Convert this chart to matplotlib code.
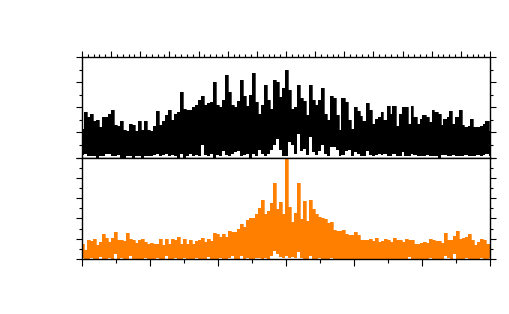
import numpy as np
import matplotlib
matplotlib.use('Agg')
import matplotlib.pyplot as plt
from matplotlib.ticker import MultipleLocator

# envelope of the two signals
black_high = [2.3,3.6,3.2,3.5,2.9,3.0,2.4,3.2,3.2,3.5,
              3.8,2.6,2.5,2.9,2.2,2.1,2.7,2.6,2.1,2.9,
              2.2,2.9,2.2,2.1,2.5,3.7,2.6,2.9,3.4,3.8,
              3.0,3.5,3.6,5.2,3.9,3.8,3.8,4.0,4.2,4.6,
              4.9,4.2,4.3,4.4,6.0,4.2,4.0,4.6,6.6,5.2,
              4.2,4.0,4.5,6.2,4.9,4.1,5.0,6.7,4.4,3.5,
              4.2,5.8,4.6,3.9,6.2,6.0,4.8,5.5,7.0,5.4,
              3.9,4.0,5.8,4.7,4.5,3.4,5.8,4.6,4.2,
              4.6,5.5,3.5,3.0,4.9,4.7,3.4,2.2,4.7,4.4,
              3.0,2.3,4.0,3.7,3.3,2.9,4.3,3.8,2.7,3.1,
              3.2,3.6,3.0,4.1,3.5,4.1,2.5,3.5,4.0,4.0,
              2.7,4.1,3.2,2.7,3.1,3.4,3.2,2.8,3.8,3.6,
              3.5,2.6,3.1,3.2,3.7,2.7,3.2,3.8,2.6,2.4,
              2.5,3.1,2.4,2.4,2.5,2.7,2.9,2.1]
black_low = [0.2,0.3,0.1,0.1,0.1,0.0,0.1,0.1,0.3,0.3,
             0.1,0.1,0.2,0.0,0.0,0.1,0.1,0.0,0.1,0.1,
             0.0,0.1,0.1,0.1,0.2,0.3,0.1,0.2,0.3,0.1,
             0.2,0.1,0.0,0.3,0.0,0.1,0.3,0.1,0.2,0.1,
             1.0,0.2,0.1,0.3,0.0,0.2,0.1,0.5,0.2,0.1,
             0.3,0.4,0.5,0.1,0.2,0.3,0.0,0.3,0.1,0.6,
             0.3,0.1,0.3,0.6,1.0,1.5,0.6,0.1,0.1,1.2,
             1.0,0.3,1.9,0.5,0.7,0.2,1.6,0.4,0.2,
             0.5,1.0,0.3,0.1,0.8,0.8,0.6,0.1,0.2,0.5,
             0.6,0.1,0.4,0.3,0.1,0.1,0.5,0.2,0.1,0.2,
             0.3,0.2,0.3,0.1,0.1,0.3,0.1,0.1,0.4,0.1,
             0.1,0.3,0.2,0.1,0.1,0.1,0.2,0.1,0.1,0.1,
             0.0,0.2,0.2,0.1,0.1,0.2,0.1,0.1,0.1,0.2,
             0.1,0.1,0.1,0.2,0.1,0.2,0.3,0.1]
orange_high = [1.5,0.9,1.9,1.8,2.0,1.4,1.7,2.5,2.1,1.7,
               2.1,2.7,1.9,1.9,1.8,2.6,2.0,1.9,1.6,1.9,
               2.0,1.7,1.5,1.6,1.5,1.5,2.0,1.4,2.0,1.5,
               2.0,1.9,2.2,1.5,2.0,1.5,1.9,1.5,1.8,1.9,
               2.1,1.7,2.0,1.8,2.6,2.5,2.2,2.5,2.2,2.8,
               2.7,2.7,3.0,3.4,3.2,3.8,4.0,4.0,4.4,5.0,
               5.8,4.4,4.7,5.5,7.5,4.9,5.6,4.4,9.9,5.1,
               3.6,4.5,7.5,3.9,5.7,3.7,5.8,4.9,4.4,
               4.1,4.0,3.9,3.5,3.6,2.9,2.8,2.8,2.9,2.5,
               2.4,2.4,2.7,2.4,1.9,1.9,1.9,2.0,1.8,2.1,
               1.7,1.8,2.0,1.9,1.7,2.1,1.9,1.9,1.7,2.0,
               1.9,1.9,1.5,1.5,1.6,1.7,1.6,2.0,1.9,1.8,
               1.8,1.6,2.6,1.9,1.9,2.3,2.8,2.0,2.1,2.2,
               2.5,1.9,1.4,1.7,2.0,1.9,1.5,1.5]
orange_low = [0.1,0.0,0.0,0.1,0.0,0.0,0.2,0.0,0.0,0.1,
              0.0,0.5,0.0,0.1,0.0,0.0,0.3,0.0,0.0,0.0,
              0.0,0.1,0.0,0.0,0.0,0.1,0.0,0.0,0.3,0.0,
              0.0,0.1,0.0,0.0,0.1,0.0,0.0,0.0,0.1,0.0,
              0.0,0.0,0.2,0.0,0.0,0.0,0.1,0.0,0.0,0.1,
              0.3,0.0,0.0,0.3,0.0,0.1,0.0,0.0,0.1,0.1,
              0.0,0.1,0.0,0.3,0.8,0.5,0.2,0.1,0.3,0.1,
              0.2,0.1,0.7,0.1,0.0,0.0,0.3,0.0,0.0,
              0.1,0.0,0.0,0.0,0.1,0.0,0.0,0.0,0.0,0.0,
              0.0,0.0,0.0,0.0,0.0,0.0,0.0,0.0,0.0,0.0,
              0.0,0.0,0.0,0.0,0.0,0.0,0.0,0.0,0.0,0.0,
              0.2,0.0,0.0,0.0,0.0,0.0,0.0,0.1,0.0,0.0,
              0.0,0.0,0.3,0.1,0.0,0.5,0.0,0.0,0.0,0.1,
              0.0,0.0,0.0,0.0,0.1,0.0,0.0,0.1]


def style_axis(ax):
    for s in ax.spines.values():
        s.set_linewidth(1.0)
    ax.tick_params(which='major', direction='out', length=4.3, width=0.8, labelleft=False, labelbottom=False)
    ax.tick_params(which='minor', direction='out', length=2.5, width=0.8)
    ax.tick_params(axis='y', which='both', left=True, right=True)
    ax.yaxis.set_major_locator(MultipleLocator(2))
    ax.yaxis.set_minor_locator(MultipleLocator(1))


def draw_signal(ax, xlim, high, low, color):
    x = np.linspace(xlim[0], xlim[1], len(high))
    ax.fill_between(x, low, high, color=color, linewidth=0, step='mid')
    ax.plot(x, high, color=color, linewidth=0.5, drawstyle='steps-mid')
    ax.set_xlim(*xlim)


fig = plt.figure(figsize=(5.1, 3.14), dpi=100)

# upper panel
ax1 = fig.add_axes([82/510, 1-157.5/314, 408/510, 100.5/314])
draw_signal(ax1, (-7, 7), black_high, black_low, 'black')
ax1.set_ylim(0, 8)
style_axis(ax1)
ax1.xaxis.set_major_locator(MultipleLocator(1))
ax1.xaxis.set_minor_locator(MultipleLocator(0.2))
ax1.tick_params(axis='x', which='both', top=True, bottom=False, labeltop=False)

# lower panel
ax2 = fig.add_axes([82/510, 1-259/314, 408/510, 101.5/314])
draw_signal(ax2, (-6, 6), orange_high, orange_low, '#ff7f00')
ax2.set_ylim(0, 10)
style_axis(ax2)
ax2.xaxis.set_major_locator(MultipleLocator(2))
ax2.xaxis.set_minor_locator(MultipleLocator(1))
ax2.tick_params(axis='x', which='major', length=5.2)
ax2.tick_params(axis='x', which='minor', length=3)

fig.savefig('out.png', dpi=100)
